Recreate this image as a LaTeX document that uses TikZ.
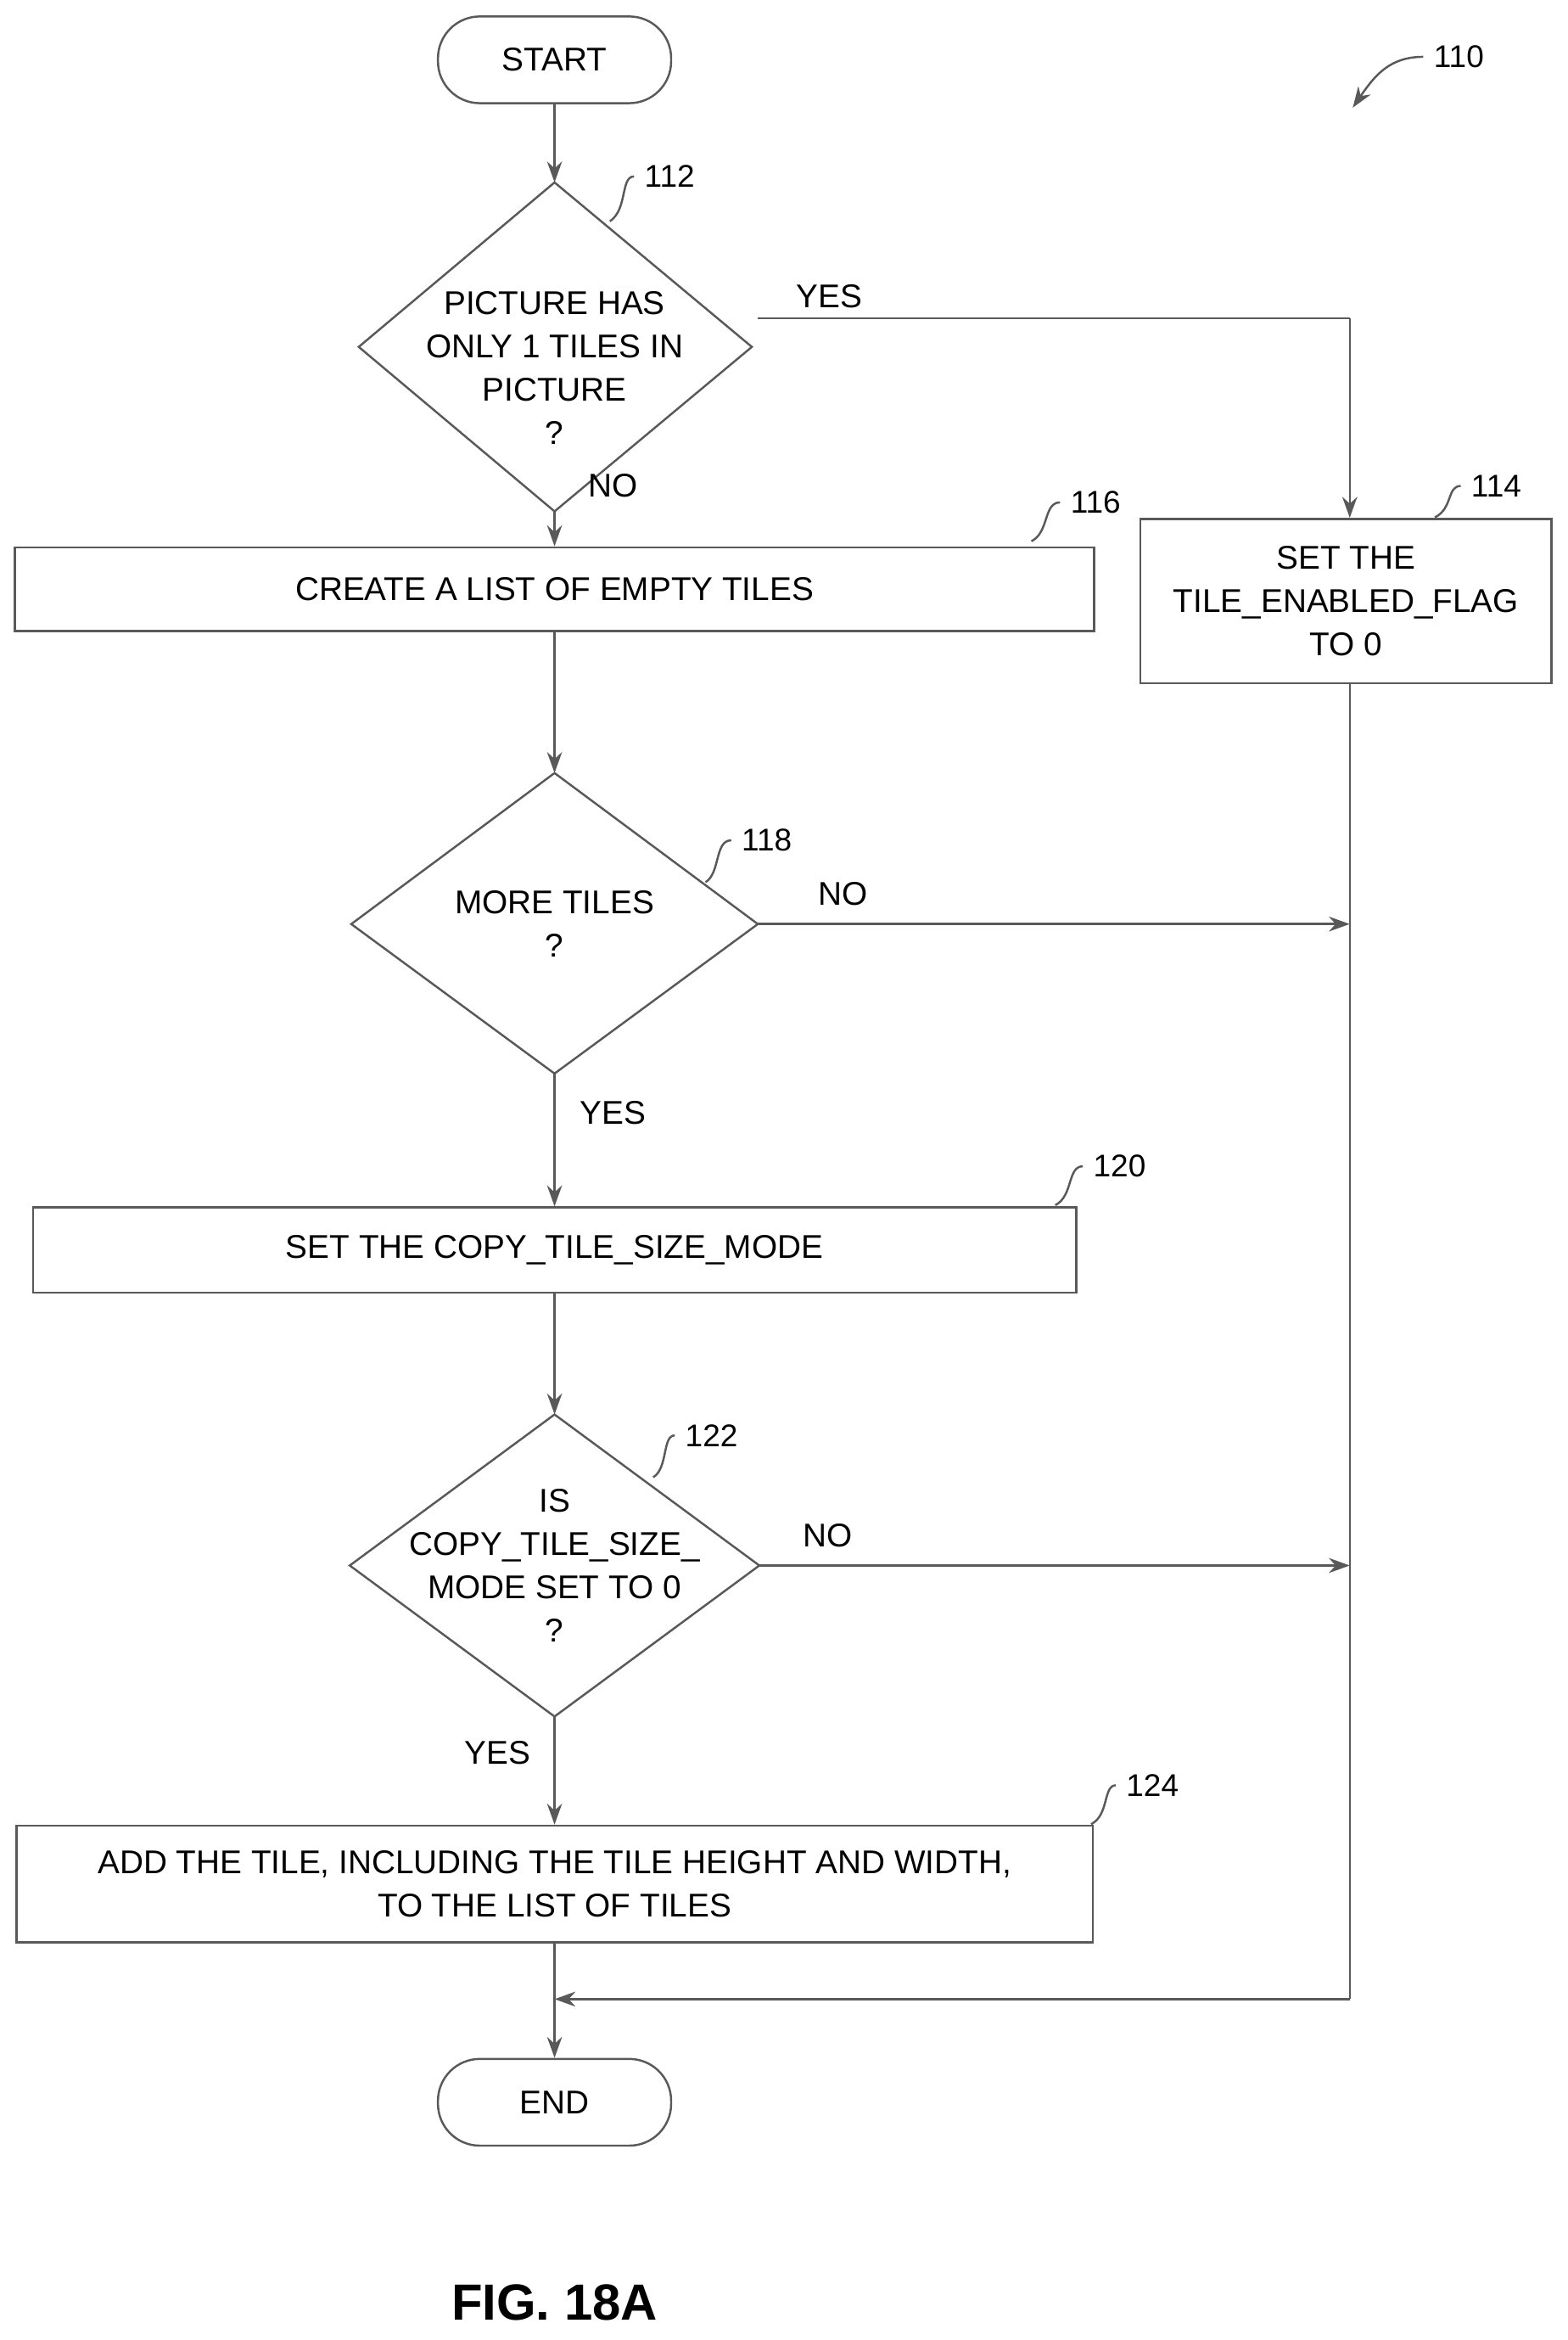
\documentclass[tikz,border=0pt]{standalone}
\usepackage{fontspec}
\setmainfont{Liberation Sans}
\usetikzlibrary{shapes.geometric,arrows.meta}
\begin{document}
\begin{tikzpicture}[x=0.5pt,y=-0.5pt,
 line/.style={draw=black!65,line width=0.7pt},
 arr/.style={line,-{Stealth[length=7pt,width=5pt]}},
 box/.style={line,rectangle,inner sep=0pt,align=center,font=\fontsize{11}{14.5}\selectfont},
 term/.style={box,rounded corners=14pt},
 dtext/.style={align=center,inner sep=0pt,font=\fontsize{11}{14.5}\selectfont},
 lbl/.style={font=\fontsize{10.5}{12}\selectfont},
 txt/.style={font=\fontsize{11}{13}\selectfont}]
\useasboundingbox (0,0) rectangle (1049,1565);
\node[term,minimum width=78pt,minimum height=29pt] (start) at (371,40) {START};
% diamond 112
\coordinate (d112n) at (371,122); \coordinate (d112s) at (371,342);
\coordinate (d112w) at (240,232); \coordinate (d112e) at (503,232);
\draw[line] (d112n) -- (d112e) -- (d112s) -- (d112w) -- cycle;
\node[dtext] (t112) at (371,246) {PICTURE HAS\\ONLY 1 TILES IN\\PICTURE\\?};
\node[box,minimum width=361pt,minimum height=28pt] (b116) at (371,394) {CREATE A LIST OF EMPTY TILES};
\node[box,minimum width=137.5pt,minimum height=55pt] (b114) at (900.5,402) {SET THE\\TILE\_ENABLED\_FLAG\\TO 0};
% diamond 118
\coordinate (d118n) at (371,517); \coordinate (d118s) at (371,718);
\coordinate (d118w) at (235,618); \coordinate (d118e) at (507,618);
\draw[line] (d118n) -- (d118e) -- (d118s) -- (d118w) -- cycle;
\node[dtext] (t118) at (371,618) {MORE TILES\\?};
\node[box,minimum width=349pt,minimum height=28.5pt] (b120) at (371,836) {SET THE COPY\_TILE\_SIZE\_MODE};
% diamond 122
\coordinate (d122n) at (371,946); \coordinate (d122s) at (371,1148);
\coordinate (d122w) at (234,1047); \coordinate (d122e) at (508,1047);
\draw[line] (d122n) -- (d122e) -- (d122s) -- (d122w) -- cycle;
\node[dtext] (t122) at (371,1047) {IS\\COPY\_TILE\_SIZE\_\\MODE SET TO 0\\?};
\node[box,minimum width=360pt,minimum height=39pt] (b124) at (371,1260) {ADD THE TILE, INCLUDING THE TILE HEIGHT AND WIDTH,\\TO THE LIST OF TILES};
\node[term,minimum width=78pt,minimum height=29pt] (end) at (371,1406) {END};
\coordinate (c0) at (507,213);
\coordinate (c1) at (903,213);
\coordinate (c2) at (903,618);
\coordinate (c3) at (903,1047);
\coordinate (c4) at (903,1337);
\coordinate (c5) at (371,1337);
\draw[arr] (start) -- (d112n);
\draw[arr] (d112s) -- (b116);
\draw[arr] (b116) -- (d118n);
\draw[arr] (d118s) -- (b120);
\draw[arr] (b120) -- (d122n);
\draw[arr] (d122s) -- (b124);
\draw[arr] (b124) -- (end);
\draw[line] (c0) -- (c1);
\draw[arr] (c1) -- (b114.north -| c1);
\draw[line] (b114.south -| c1) -- (c4);
\draw[arr] (c4) -- (c5);
\draw[arr] (d118e) -- (c2);
\draw[arr] (d122e) -- (c3);
\node[txt] at (555,198) {YES};
\node[txt] at (410,325) {NO};
\node[txt] at (564,598) {NO};
\node[txt] at (410,744) {YES};
\node[txt] at (554,1027) {NO};
\node[txt] at (333,1172) {YES};
\node[lbl] (l112) at (448,118) {112};
\draw[line] (l112.west) .. controls (415,118) and (420,140) .. (408,148);
\node[lbl] (l116) at (733,336) {116};
\draw[line] (l116.west) .. controls (698,336) and (702,356) .. (690,362);
\node[lbl] (l114) at (1001,325) {114};
\draw[line] (l114.west) .. controls (968,325) and (972,340) .. (960,346);
\node[lbl] (l118) at (513,562) {118};
\draw[line] (l118.west) .. controls (478,562) and (482,584) .. (472,590);
\node[lbl] (l120) at (749,780) {120};
\draw[line] (l120.west) .. controls (714,780) and (718,800) .. (706,806);
\node[lbl] (l122) at (476,960) {122};
\draw[line] (l122.west) .. controls (443,960) and (447,982) .. (437,988);
\node[lbl] (l124) at (771,1194) {124};
\draw[line] (l124.west) .. controls (738,1194) and (742,1214) .. (730,1220);
\node[lbl] (l110) at (976,38) {110};
\coordinate (a110) at (905,72);
\draw[arr] (l110.west) .. controls (930,38) and (920,50) .. (a110);
\node[font=\bfseries\fontsize{17}{20}\selectfont] (fig) at (371,1540) {FIG. 18A};
\end{tikzpicture}
\end{document}
